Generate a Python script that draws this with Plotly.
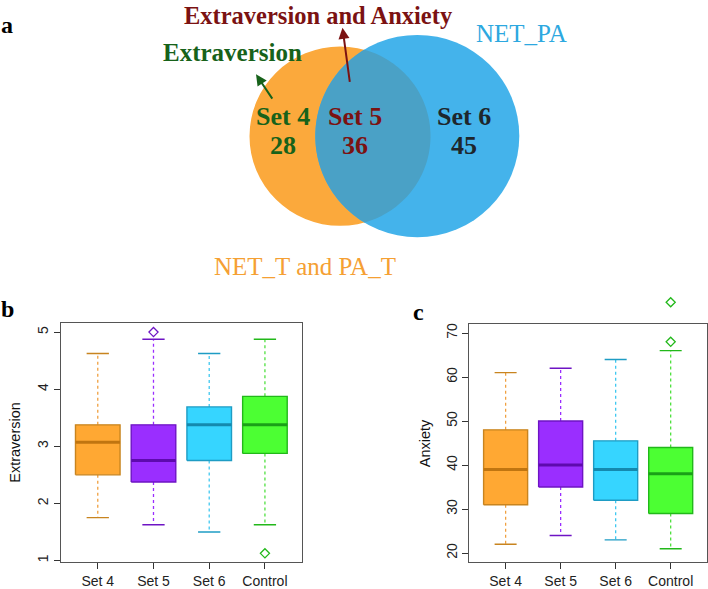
import numpy as np
import plotly.graph_objects as go

# ---------------- data ----------------
groups = ["Set 4", "Set 5", "Set 6", "Control"]
venn_sets = ["Set 4", "Set 5", "Set 6"]
venn_counts = [28, 36, 45]

ext_lower = [1.75, 1.625, 1.5, 1.625]
ext_q1 = [2.5, 2.375, 2.75, 2.875]
ext_med = [3.07, 2.75, 3.375, 3.375]
ext_q3 = [3.375, 3.375, 3.69, 3.875]
ext_upper = [4.625, 4.875, 4.625, 4.875]
ext_out_group = [2, 4]
ext_out_val = [5.0, 1.125]

anx_lower = [22, 24, 23, 21]
anx_q1 = [31, 35, 32, 29]
anx_med = [39, 40, 39, 38]
anx_q3 = [48, 50, 45.5, 44]
anx_upper = [61, 62, 64, 66]
anx_out_group = [4, 4]
anx_out_val = [68, 77]

ext_ticks = [1, 2, 3, 4, 5]
anx_ticks = [20, 30, 40, 50, 60, 70]

fill_cols = ["#FFA833", "#9A2EFF", "#36D5FF", "#4CFF33"]
line_cols = ["#C8841F", "#6E14C4", "#1E9CC4", "#22B81A"]
med_cols = ["#C07510", "#5E0AAE", "#1489AE", "#1AA018"]
whisk_cols = ["#F0A040", "#9A2EFF", "#40C8F0", "#50E040"]

W, H = 708, 589
VH = 300  # pixel height of the Venn area
fig = go.Figure()


def add_boxes(xa, ya, lo, q1, med, q3, up, og, ov, oxa=None, oya=None):
    bw, cw = 0.4, 0.2
    for i in range(len(groups)):
        p = i + 1
        fig.add_trace(go.Scatter(
            x=[p, p, None, p, p], y=[q3[i], up[i], None, q1[i], lo[i]],
            mode="lines", line=dict(color=whisk_cols[i], width=1.3, dash="3px,3px"),
            xaxis=xa, yaxis=ya, hoverinfo="skip"))
        fig.add_trace(go.Scatter(
            x=[p - cw, p + cw, None, p - cw, p + cw],
            y=[up[i], up[i], None, lo[i], lo[i]],
            mode="lines", line=dict(color=line_cols[i], width=1.4),
            xaxis=xa, yaxis=ya, hoverinfo="skip"))
        fig.add_trace(go.Scatter(
            x=[p - bw, p + bw, p + bw, p - bw, p - bw],
            y=[q1[i], q1[i], q3[i], q3[i], q1[i]],
            mode="lines", fill="toself", fillcolor=fill_cols[i],
            line=dict(color=line_cols[i], width=1.4),
            xaxis=xa, yaxis=ya, hoverinfo="skip"))
        fig.add_trace(go.Scatter(
            x=[p - bw, p + bw], y=[med[i], med[i]],
            mode="lines", line=dict(color=med_cols[i], width=3),
            xaxis=xa, yaxis=ya, hoverinfo="skip"))
    fig.add_trace(go.Scatter(
        x=og, y=ov, mode="markers",
        marker=dict(symbol="diamond-open", size=7,
                    color=[line_cols[g - 1] for g in og], line=dict(width=1.3)),
        cliponaxis=False, xaxis=oxa or xa, yaxis=oya or ya, hoverinfo="skip"))


add_boxes("x", "y", ext_lower, ext_q1, ext_med, ext_q3, ext_upper, ext_out_group, ext_out_val)
add_boxes("x2", "y2", anx_lower, anx_q1, anx_med, anx_q3, anx_upper, anx_out_group, anx_out_val,
          oxa="x4", oya="y4")

tickfont = dict(family="Liberation Sans, Arial, sans-serif", size=14, color="#222")
common_x = dict(range=[0.34, 4.66], tickvals=[1, 2, 3, 4], ticktext=groups,
                showgrid=False, zeroline=False, showline=True, mirror=True,
                linecolor="#555", linewidth=1.3, ticks="outside", ticklen=6,
                tickcolor="#333", tickwidth=1.2, tickfont=tickfont)
common_y = dict(showgrid=False, zeroline=False, showline=True, mirror=True,
                linecolor="#555", linewidth=1.3, ticks="outside", ticklen=6,
                tickcolor="#333", tickwidth=1.2, tickangle=-90, tickfont=tickfont)

# panel c pixel frame and y range; an invisible companion axis extends the same scale upward
c_top, c_bot = 326.0, 565.7
c_rng = [18, 72]
ppu = (c_bot - c_top) / (c_rng[1] - c_rng[0])
ext_top = 300.0
c_rng_ext = [c_rng[0], c_rng[1] + (c_top - ext_top) / ppu]

fig.update_layout(
    width=W, height=H, margin=dict(l=0, r=0, t=0, b=0),
    paper_bgcolor="white", plot_bgcolor="rgba(0,0,0,0)", showlegend=False,
    xaxis=dict(domain=[61 / W, 301.7 / W], anchor="y", **common_x),
    yaxis=dict(domain=[1 - 566 / H, 1 - 325 / H], anchor="x", range=[0.97, 5.155],
               tickvals=ext_ticks, **common_y),
    xaxis2=dict(domain=[469.3 / W, 707 / W], anchor="y2", **common_x),
    yaxis2=dict(domain=[1 - c_bot / H, 1 - c_top / H], anchor="x2", range=c_rng,
                tickvals=anx_ticks, **common_y),
    xaxis3=dict(domain=[0, 1], anchor="y3", range=[0, W], visible=False, fixedrange=True),
    yaxis3=dict(domain=[1 - VH / H, 1], anchor="x3", range=[VH, 0], visible=False,
                fixedrange=True),
    xaxis4=dict(domain=[469.3 / W, 707 / W], anchor="y4", range=[0.34, 4.66], visible=False),
    yaxis4=dict(domain=[1 - c_bot / H, 1 - ext_top / H], anchor="x4", range=c_rng_ext,
                visible=False),
)

# ---------------- Venn (panel a) ----------------
cx1, cy1, r1 = 340.0, 136.3, 90.5
cx2, cy2, r2 = 417.3, 136.2, 102.0
d = np.hypot(cx2 - cx1, cy2 - cy1)
a = (r1 ** 2 - r2 ** 2 + d ** 2) / (2 * d)
al1 = np.arccos(a / r1)
al2 = np.arccos((d - a) / r2)
t1 = np.linspace(-al1, al1, 80)
t2 = np.linspace(np.pi - al2, np.pi + al2, 80)
px = np.concatenate([cx1 + r1 * np.cos(t1), cx2 + r2 * np.cos(t2)])
py = np.concatenate([cy1 + r1 * np.sin(t1), cy2 + r2 * np.sin(t2)])
lens = "M " + " L ".join(f"{x:.2f},{y:.2f}" for x, y in zip(px, py)) + " Z"

fig.add_shape(type="circle", xref="x3", yref="y3", x0=cx1 - r1, x1=cx1 + r1,
              y0=cy1 - r1, y1=cy1 + r1, fillcolor="#FBA93C", line=dict(width=0), layer="below")
fig.add_shape(type="circle", xref="x3", yref="y3", x0=cx2 - r2, x1=cx2 + r2,
              y0=cy2 - r2, y1=cy2 + r2, fillcolor="#44B3EB", line=dict(width=0), layer="below")
fig.add_shape(type="path", xref="x3", yref="y3", path=lens, fillcolor="#4AA1C6",
              line=dict(width=0), layer="below")

serif_b = "Liberation Serif, Times New Roman, serif"
sans = "Liberation Sans, Arial, sans-serif"
dred, dgreen, dark = "#7B1212", "#17621A", "#1E262C"


def txt(x, y, s, color, size=25, bold=True, angle=0, fam=serif_b, venn=True):
    if venn:
        kw = dict(x=x, y=y, xref="x3", yref="y3")
    else:
        kw = dict(x=x / W, y=1 - y / H, xref="paper", yref="paper")
    fig.add_annotation(**kw, showarrow=False, textangle=angle,
                       text=f"<b>{s}</b>" if bold else s,
                       font=dict(family=fam, size=size, color=color),
                       xanchor="center", yanchor="middle")


txt(318, 14.5, "Extraversion and Anxiety", dred, size=24.5)
txt(232.7, 52, "Extraversion", dgreen)
txt(521.7, 33, "NET_PA", "#2DA8E0", bold=False)
txt(305, 268, "NET_T and PA_T", "#F5A033", bold=False)

set_x = [283, 355.3, 463.5]
set_cols = [dgreen, dred, dark]
for i in range(len(venn_sets)):
    txt(set_x[i], 116, venn_sets[i], set_cols[i], size=26)
    txt(set_x[i], 146, str(venn_counts[i]), set_cols[i], size=26)

for (hx, hy, tx, ty, col) in [(342.5, 27, 350, 83, dred), (256, 74, 273.3, 100, dgreen)]:
    fig.add_annotation(x=hx, y=hy, ax=tx, ay=ty, xref="x3", yref="y3", axref="x3", ayref="y3",
                       text="", showarrow=True, arrowhead=2, arrowsize=1.1, arrowwidth=2,
                       arrowcolor=col)

txt(7, 24, "a", "black", size=24)
txt(7.5, 311, "b", "black", size=24, venn=False)
txt(418.7, 314, "c", "black", size=24, venn=False)

txt(15, 445.5, "Extraversion", "#111", size=14.5, bold=False, angle=-90, fam=sans, venn=False)
txt(425, 446, "Anxiety", "#111", size=14.5, bold=False, angle=-90, fam=sans, venn=False)

# the page body has a default 8px margin; remove it so the figure sits at the window origin
fig.write_html("out.html", config={"displayModeBar": False},
               post_script="document.body.style.margin='0';")
